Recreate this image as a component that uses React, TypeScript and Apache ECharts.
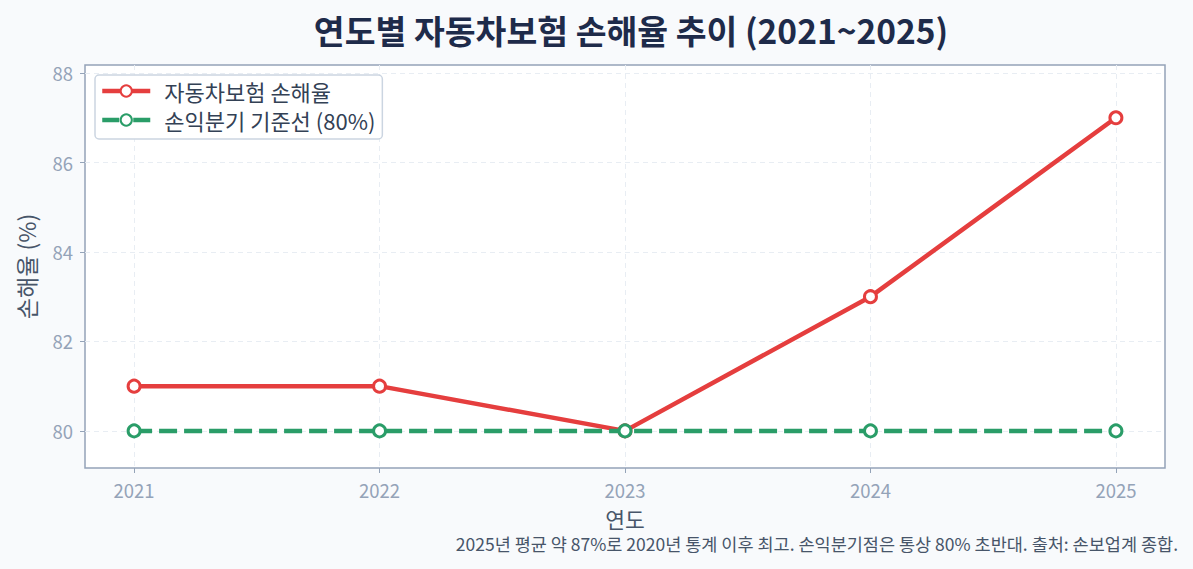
import React, { useEffect, useRef } from "react";
import * as echarts from "echarts";

const years = [2021, 2022, 2023, 2024, 2025];
const lossRatio = [81, 81, 80, 83, 87];
const breakEven = [80, 80, 80, 80, 80];
const yTicks = [80, 82, 84, 86, 88];
const titleText = "연도별 자동차보험 손해율 추이 (2021~2025)";
const seriesNames = ["자동차보험 손해율", "손익분기 기준선 (80%)"];
const footnote = "2025년 평균 약 87%로 2020년 통계 이후 최고. 손익분기점은 통상 80% 초반대. 출처: 손보업계 종합.";

const FONT = "'Noto Sans CJK KR', 'Noto Sans', sans-serif";

export default function App() {
  const ref = useRef<HTMLDivElement>(null);
  useEffect(() => {
    if (!ref.current) return;
    const chart = echarts.init(ref.current, null, { renderer: "svg" });
    const colors = ["#e53e3e", "#2a9d68"];
    chart.setOption({
      animation: false,
      backgroundColor: "#f8fafc",
      textStyle: { fontFamily: FONT },
      title: {
        text: titleText,
        left: 626,
        top: 8,
        textAlign: "center",
        textStyle: { fontSize: 33.5, fontWeight: "bold", color: "#1e2b4a", fontFamily: FONT },
      },
      legend: {
        left: 95,
        top: 75,
        orient: "vertical",
        backgroundColor: "#ffffff",
        borderColor: "#cbd5e1",
        borderWidth: 1.5,
        borderRadius: 4,
        padding: [5, 7, 8, 5],
        itemGap: 7,
        itemWidth: 48,
        itemHeight: 14,
        lineStyle: { width: 4.5 },
        textStyle: { fontSize: 22, color: "#334155", fontFamily: FONT, padding: [0, 0, 0, 9] },
        data: [
          { name: seriesNames[0] },
          { name: seriesNames[1], lineStyle: { type: [17, 14], width: 4.5 } },
        ],
      },
      grid: {
        left: 85,
        right: 28,
        top: 65,
        bottom: 101,
        show: true,
        backgroundColor: "#ffffff",
        borderColor: "#94a3b8",
        borderWidth: 1.5,
      },
      xAxis: {
        type: "value",
        min: 2020.8,
        max: 2025.2,
        name: "연도",
        nameLocation: "middle",
        nameGap: 40,
        nameTextStyle: { fontSize: 21.5, color: "#475569", fontFamily: FONT },
        axisLine: { show: false },
        axisTick: { show: true, length: 5, customValues: years, lineStyle: { color: "#94a3b8" } },
        axisLabel: {
          customValues: years,
          margin: 13,
          fontSize: 18.5,
          color: "#94a3b8",
          formatter: (v: number) => String(Math.round(v)),
        },
        splitLine: { show: true, lineStyle: { color: "#e8edf3", type: [5, 4], width: 1 } },
      },
      yAxis: {
        type: "value",
        min: 79.17,
        max: 88.18,
        name: "손해율 (%)",
        nameLocation: "middle",
        nameGap: 48,
        nameTextStyle: { fontSize: 23, color: "#475569", fontFamily: FONT },
        axisLine: { show: false },
        axisTick: { show: true, length: 5, customValues: yTicks, lineStyle: { color: "#94a3b8" } },
        axisLabel: { customValues: yTicks, margin: 12, fontSize: 18.5, color: "#94a3b8" },
        splitLine: { show: true, lineStyle: { color: "#e8edf3", type: [5, 4], width: 1 } },
      },
      graphic: [
        {
          type: "text",
          right: 15,
          top: 535,
          style: { text: footnote, fontSize: 17.5, fill: "#475569", fontFamily: FONT },
        },
      ],
      series: [
        {
          name: seriesNames[0],
          type: "line",
          data: years.map((y, i) => [y, lossRatio[i]]),
          lineStyle: { color: colors[0], width: 4.5 },
          symbol: "circle",
          symbolSize: 12,
          itemStyle: { color: "#ffffff", borderColor: colors[0], borderWidth: 3 },
          z: 2,
        },
        {
          name: seriesNames[1],
          type: "line",
          data: years.map((y, i) => [y, breakEven[i]]),
          lineStyle: { color: colors[1], width: 4.5, type: [18, 7] },
          symbol: "circle",
          symbolSize: 12,
          itemStyle: { color: "#ffffff", borderColor: colors[1], borderWidth: 3 },
          z: 3,
        },
      ],
    });
    return () => chart.dispose();
  }, []);
  return (
    <div
      ref={ref}
      style={{ position: "fixed", left: 0, top: 0, width: 1193, height: 569 }}
    />
  );
}
